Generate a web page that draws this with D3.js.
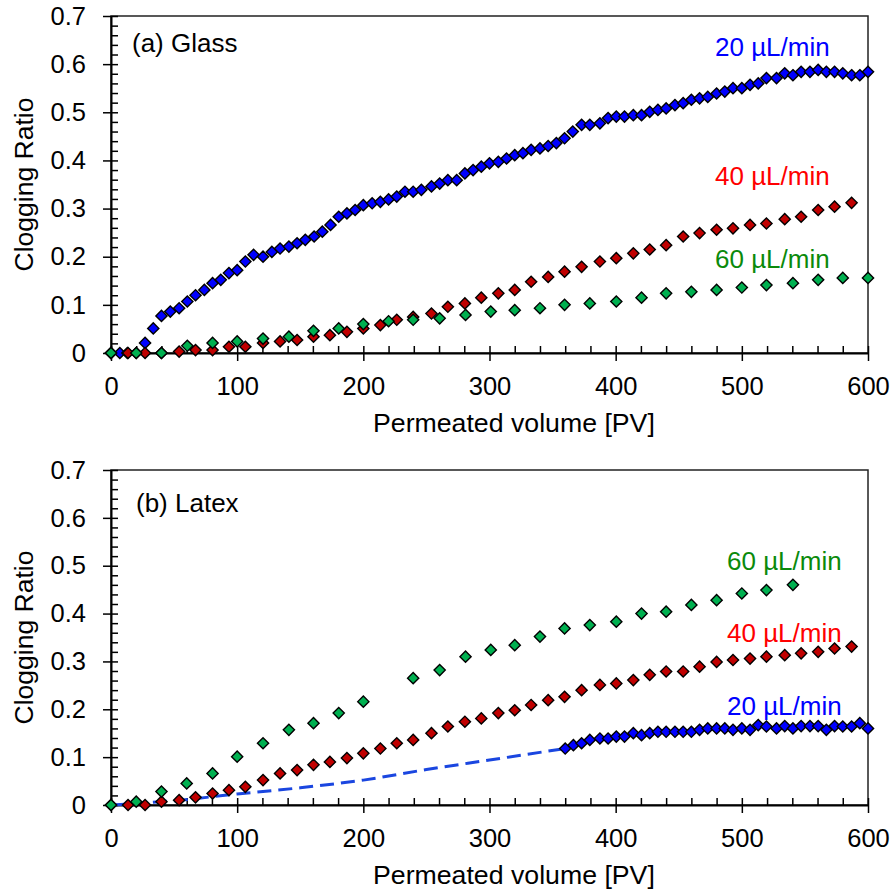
<!DOCTYPE html>
<html>
<head>
<meta charset="utf-8">
<script src="https://cdn.jsdelivr.net/npm/d3@7"></script>
<style>
  body { margin: 0; background: #fff; }
  text { font-family: "Liberation Sans", Arial, sans-serif; }
</style>
</head>
<body>
<div id="chart"></div>
<script>
// axis ticks
const pvTicks = [0, 100, 200, 300, 400, 500, 600];
const pvMinor = d3.range(0, 601, 20);
const ratioTicks = [0, 0.1, 0.2, 0.3, 0.4, 0.5, 0.6, 0.7];
const ratioMinor = d3.range(0, 0.7001, 0.02);

// (a) Glass
const glass20X = [0, 7, 13, 20, 27, 33.5, 40, 47, 54, 60.5, 67, 74, 80.5, 87, 93.5, 100, 106.5, 113, 120.5, 127.5,
  134, 141, 147.5, 154, 161, 167.5, 174, 180.5, 187, 193.5, 200, 207, 213.5, 220, 226.5, 233, 239.5, 246, 254, 260.5,
  267, 274, 280.5, 287, 293.5, 300, 307, 313.5, 320, 326.5, 333, 340, 346.5, 353, 359.5, 366, 373, 379.5, 387.5, 394,
  400.5, 407, 414, 420.5, 427, 433.5, 440, 447, 453.5, 460, 466.5, 473, 480, 486.5, 493, 500, 506.5, 513, 519.5, 527.5,
  534, 540.5, 547, 554, 560.5, 567, 573.5, 580, 587, 593.5, 600];
const glass20Y = [0, 0, 0, 0, 0.021, 0.051, 0.077, 0.086, 0.093, 0.107, 0.120, 0.131, 0.145, 0.152, 0.166, 0.172, 0.190, 0.204, 0.200, 0.210,
  0.217, 0.221, 0.228, 0.235, 0.242, 0.252, 0.266, 0.283, 0.290, 0.297, 0.307, 0.311, 0.314, 0.319, 0.325, 0.335, 0.335, 0.339, 0.346, 0.352,
  0.359, 0.359, 0.373, 0.380, 0.387, 0.394, 0.397, 0.404, 0.411, 0.415, 0.422, 0.425, 0.430, 0.436, 0.446, 0.460, 0.474, 0.474, 0.477, 0.488,
  0.491, 0.491, 0.494, 0.494, 0.501, 0.505, 0.508, 0.515, 0.519, 0.526, 0.529, 0.532, 0.539, 0.543, 0.550, 0.550, 0.557, 0.560, 0.571, 0.571,
  0.581, 0.577, 0.584, 0.584, 0.588, 0.584, 0.584, 0.581, 0.577, 0.577, 0.584];

const glass40X = [0, 13.5, 27, 40, 54, 67, 80.5, 93.5, 106.5, 120.5, 134, 147.5, 160.5, 173.5, 187, 200, 213.5, 226.5, 239.5, 254,
  267, 280.5, 293.5, 307, 320, 333, 346.5, 359.5, 373, 387.5, 400.5, 414, 427, 440, 453.5, 466.5, 480, 493, 506.5, 519.5,
  534, 547, 560.5, 573.5, 587];
const glass40Y = [0, 0, 0, 0, 0.003, 0.006, 0.006, 0.013, 0.013, 0.021, 0.024, 0.027, 0.034, 0.037, 0.044, 0.051, 0.058, 0.069, 0.075, 0.082,
  0.096, 0.103, 0.115, 0.124, 0.131, 0.148, 0.158, 0.169, 0.179, 0.190, 0.197, 0.207, 0.215, 0.224, 0.242, 0.249, 0.256, 0.259, 0.266, 0.269,
  0.278, 0.283, 0.297, 0.304, 0.312];

const glass60X = [0, 20, 40, 60.5, 80.5, 100, 120.5, 141, 160.5, 180.5, 200, 220, 239.5, 260.5, 281, 301, 320, 340, 359.5, 379.5,
  400.5, 420.5, 440, 460, 480, 500, 519.5, 540.5, 560.5, 580, 600];
const glass60Y = [0, 0, 0, 0.015, 0.021, 0.024, 0.030, 0.034, 0.046, 0.051, 0.060, 0.066, 0.069, 0.072, 0.079, 0.086, 0.089, 0.093, 0.100, 0.103,
  0.107, 0.115, 0.124, 0.127, 0.131, 0.136, 0.141, 0.145, 0.152, 0.156, 0.156];

// (b) Latex
const latex20X = [360, 366.5, 373, 379.5, 387.5, 394, 400.5, 407, 414, 420.5, 427, 433.5, 440, 447, 453.5, 460, 466.5, 473, 480, 486.5,
  493, 500, 506.5, 513, 519.5, 527.5, 534, 540.5, 547, 554, 560.5, 567, 573.5, 580, 587, 593.5, 600];
const latex20Y = [0.118, 0.125, 0.129, 0.136, 0.139, 0.139, 0.143, 0.143, 0.150, 0.146, 0.150, 0.153, 0.153, 0.153, 0.153, 0.153, 0.157, 0.160, 0.160, 0.160,
  0.157, 0.160, 0.157, 0.167, 0.164, 0.160, 0.165, 0.160, 0.165, 0.165, 0.165, 0.157, 0.165, 0.164, 0.164, 0.171, 0.160];
const latex20FitX = [0, 50, 100, 150, 200, 250, 300, 360];
const latex20FitY = [0, 0.009, 0.023, 0.036, 0.052, 0.074, 0.094, 0.118];

const latex40X = [0, 13.5, 27, 40, 54, 67, 80.5, 93.5, 106.5, 120.5, 134, 147.5, 160.5, 173.5, 187, 200, 213.5, 226.5, 239.5, 254,
  267, 280.5, 293.5, 307, 320, 333, 346.5, 359.5, 373, 387.5, 400.5, 414, 427, 440, 453.5, 466.5, 480, 493, 506.5, 519.5,
  534, 547, 560.5, 573.5, 587];
const latex40Y = [0, 0, 0, 0.007, 0.010, 0.016, 0.024, 0.031, 0.038, 0.052, 0.066, 0.073, 0.084, 0.090, 0.098, 0.108, 0.118, 0.129, 0.136, 0.150,
  0.164, 0.174, 0.181, 0.192, 0.198, 0.209, 0.219, 0.226, 0.240, 0.251, 0.254, 0.261, 0.272, 0.279, 0.279, 0.289, 0.299, 0.303, 0.306, 0.310,
  0.313, 0.317, 0.320, 0.327, 0.331];

const latex60X = [0, 20, 40, 60, 80.5, 100, 120.5, 141, 160.5, 180.5, 200, 239.5, 260.5, 281, 301, 320, 340, 359.5, 379.5, 400.5,
  420.5, 440, 460, 480, 500, 519.5, 540.5];
const latex60Y = [0, 0.007, 0.028, 0.045, 0.066, 0.101, 0.129, 0.157, 0.171, 0.192, 0.216, 0.265, 0.282, 0.310, 0.324, 0.334, 0.352, 0.369, 0.376, 0.383,
  0.400, 0.404, 0.418, 0.428, 0.442, 0.449, 0.460];

const zip = (xs, ys) => xs.map((x, i) => ({ x: x, y: ys[i] }));

const width = 894;
const height = 892;
const left = 111;
const right = 868;

const panels = [
  {
    top: 16, bottom: 353, title: '(a) Glass', titlePos: [132, 52],
    series: [
      { values: zip(glass20X, glass20Y), fill: '#0000ff' },
      { values: zip(glass40X, glass40Y), fill: '#c00000' },
      { values: zip(glass60X, glass60Y), fill: '#00b050' }
    ],
    notes: [
      { text: '20 µL/min', pos: [715, 56], color: '#0000ff' },
      { text: '40 µL/min', pos: [715, 185], color: '#ff0000' },
      { text: '60 µL/min', pos: [715, 268], color: '#0b8a0b' }
    ]
  },
  {
    top: 470, bottom: 805, title: '(b) Latex', titlePos: [136, 512],
    fit: zip(latex20FitX, latex20FitY),
    series: [
      { values: zip(latex20X, latex20Y), fill: '#0000ff' },
      { values: zip(latex40X, latex40Y), fill: '#c00000' },
      { values: zip(latex60X, latex60Y), fill: '#00b050' }
    ],
    notes: [
      { text: '60 µL/min', pos: [727, 570], color: '#0b8a0b' },
      { text: '40 µL/min', pos: [727, 642], color: '#ff0000' },
      { text: '20 µL/min', pos: [727, 715], color: '#0000ff' }
    ]
  }
];

const diamond = (r) => `M0,${-r}L${r},0L0,${r}L${-r},0Z`;

const svg = d3.select('#chart')
  .append('svg')
  .attr('width', width)
  .attr('height', height);

panels.forEach((p) => {
  const h = p.bottom - p.top;
  const g = svg.append('g').attr('transform', `translate(${left}, ${p.top})`);

  const xScale = d3.scaleLinear().domain([0, 600]).range([0, right - left]);
  const yScale = d3.scaleLinear().domain([0, 0.7]).range([h, 0]);

  // frame
  g.append('rect')
    .attr('width', right - left)
    .attr('height', h)
    .attr('fill', 'none')
    .attr('stroke', '#222')
    .attr('stroke-width', 1.5);

  // minor (inside) ticks
  g.append('g')
    .attr('class', 'minor')
    .attr('transform', `translate(0, ${h})`)
    .call(d3.axisTop(xScale).tickValues(pvMinor).tickSize(7).tickSizeOuter(0).tickFormat(''));
  g.append('g')
    .attr('class', 'minor')
    .call(d3.axisRight(yScale).tickValues(ratioMinor).tickSize(7).tickSizeOuter(0).tickFormat(''));

  // major ticks with labels
  g.append('g')
    .attr('class', 'major')
    .attr('transform', `translate(0, ${h})`)
    .call(d3.axisBottom(xScale).tickValues(pvTicks).tickSize(8).tickSizeOuter(0).tickPadding(16));
  g.append('g')
    .attr('class', 'major')
    .call(d3.axisLeft(yScale).tickValues(ratioTicks).tickSize(8).tickSizeOuter(0).tickPadding(17)
      .tickFormat((d) => d === 0 ? '0' : d.toFixed(1)));

  g.selectAll('.minor line, .major line').attr('stroke', '#000').attr('stroke-width', 1.5);
  g.selectAll('.minor .domain').remove();
  g.selectAll('.major .domain').attr('stroke', '#000').attr('stroke-width', 2);
  g.selectAll('.major text').attr('font-size', 25.5).attr('fill', '#000')
    .style('font-family', '"Liberation Sans", Arial, sans-serif');

  // titles
  g.append('text')
    .attr('x', 373 - left)
    .attr('y', h + 79)
    .attr('font-size', 26.7)
    .text('Permeated volume [PV]');

  g.append('text')
    .attr('transform', `translate(${33 - left}, ${h / 2}) rotate(-90)`)
    .attr('text-anchor', 'middle')
    .attr('font-size', 26.5)
    .text('Clogging Ratio');

  // fitted curve
  if (p.fit) {
    const line = d3.line()
      .x((d) => xScale(d.x))
      .y((d) => yScale(d.y))
      .curve(d3.curveMonotoneX);
    g.append('path')
      .attr('d', line(p.fit))
      .attr('fill', 'none')
      .attr('stroke', '#1a46e0')
      .attr('stroke-width', 3)
      .attr('stroke-dasharray', '14,7');
  }

  // markers
  p.series.forEach((s) => {
    g.append('g')
      .selectAll('path')
      .data(s.values)
      .enter()
      .append('path')
      .attr('d', diamond(5.6))
      .attr('transform', (d) => `translate(${xScale(d.x)}, ${yScale(d.y)})`)
      .attr('fill', s.fill)
      .attr('stroke', '#000')
      .attr('stroke-width', 1.4);
  });

  svg.append('text')
    .attr('x', p.titlePos[0])
    .attr('y', p.titlePos[1])
    .attr('font-size', 26)
    .text(p.title);

  p.notes.forEach((n) => {
    svg.append('text')
      .attr('x', n.pos[0])
      .attr('y', n.pos[1])
      .attr('font-size', 26)
      .attr('fill', n.color)
      .text(n.text);
  });
});
</script>
</body>
</html>
